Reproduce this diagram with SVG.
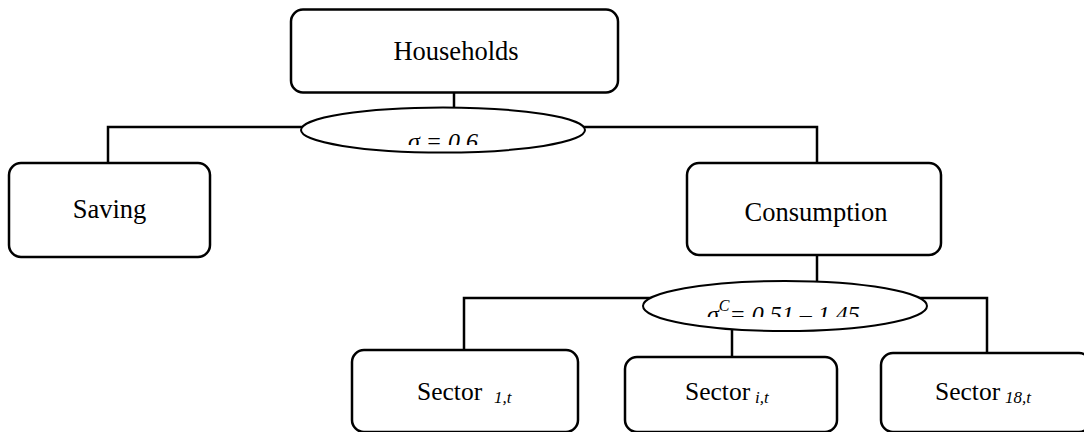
<svg xmlns="http://www.w3.org/2000/svg" width="1084" height="432" viewBox="0 0 1084 432">
<style>
.box{fill:#fff;stroke:#000;stroke-width:2.5}
.ell{fill:#fff;stroke:#000;stroke-width:2}
.ln{fill:none;stroke:#000;stroke-width:2.5}
.t{font-family:"Liberation Serif",serif;font-size:26.5px;fill:#000}
.ts{font-family:"Liberation Serif",serif;font-size:25.5px;fill:#000}
.sub{font-family:"Liberation Serif",serif;font-style:italic;font-size:17px;fill:#000}
.math{font-family:"Liberation Serif",serif;font-style:italic;font-size:24px;fill:#000}
</style>
<defs>
<clipPath id="c1"><rect x="300" y="100" width="290" height="45"/></clipPath>
<clipPath id="c2"><rect x="640" y="270" width="290" height="47"/></clipPath>
</defs>
<g id="connectors">
<path class="ln" d="M454 93V110"/>
<path class="ln" d="M108 163V127H817V163"/>
<path class="ln" d="M817 255V282"/>
<path class="ln" d="M464 350V298H987V353"/>
<path class="ln" d="M732 328V357"/>
</g>
<g id="households">
<rect class="box" x="291" y="9.5" width="327" height="83" rx="12"/>
<text class="t" x="456" y="60" text-anchor="middle">Households</text>
</g>
<g id="sigma1">
<ellipse class="ell" cx="443" cy="130" rx="142" ry="22.5"/>
<text class="math" x="443" y="149" text-anchor="middle" clip-path="url(#c1)">σ = 0.6</text>
</g>
<g id="saving">
<rect class="box" x="9" y="163" width="201" height="94" rx="12"/>
<text class="t" x="109.5" y="218" text-anchor="middle">Saving</text>
</g>
<g id="consumption">
<rect class="box" x="687" y="163" width="254" height="92" rx="12"/>
<text class="t" x="816" y="221" text-anchor="middle">Consumption</text>
</g>
<g id="sigma2">
<ellipse class="ell" cx="785" cy="306" rx="142" ry="25"/>
<text class="math" x="707" y="322" clip-path="url(#c2)">σ<tspan font-size="16" dy="-11">C</tspan><tspan dy="11">= 0.51 – 1.45</tspan></text>
</g>
<g id="sector1">
<rect class="box" x="352" y="350" width="226" height="82" rx="12"/>
<text class="ts" x="417" y="400">Sector</text>
<text class="sub" x="494" y="403">1,t</text>
</g>
<g id="sectori">
<rect class="box" x="625" y="357" width="212" height="75" rx="12"/>
<text class="ts" x="685" y="400">Sector</text>
<text class="sub" x="755" y="403">i,t</text>
</g>
<g id="sector18">
<rect class="box" x="881" y="353" width="210" height="79" rx="12"/>
<text class="ts" x="935" y="400">Sector</text>
<text class="sub" x="1005" y="403">18,t</text>
</g>
</svg>
